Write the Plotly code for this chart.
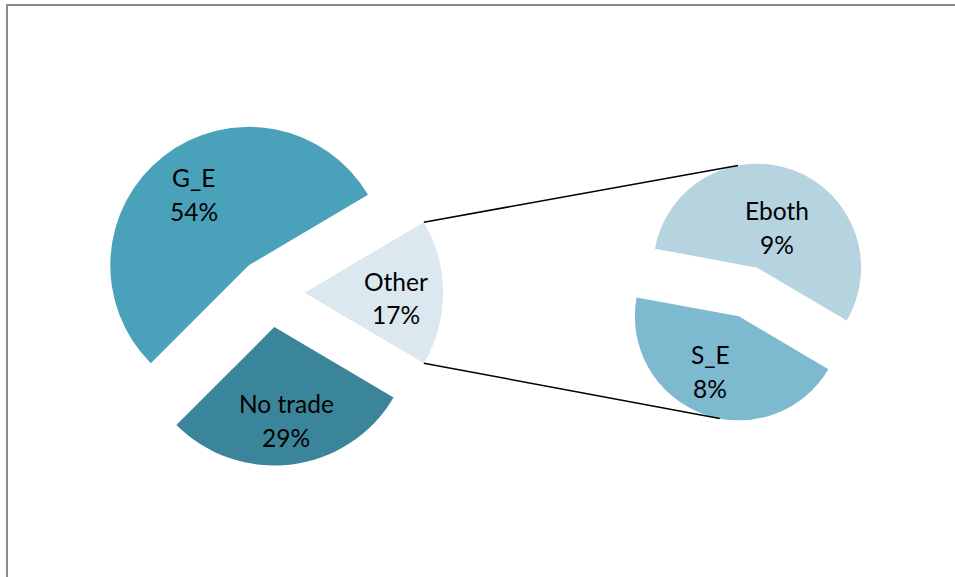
import math
import plotly.graph_objects as go

# ---------------- data ----------------
main_labels = ["G_E", "No trade", "Other"]
main_values = [54, 29, 17]
sub_labels = ["Eboth", "S_E"]
sub_values = [9.45, 7.55]          # split of "Other"

main_colors = ["#49a2b9", "#3a8599", "#dce8ef"]
sub_colors = ["#b5d4e0", "#7dbad0"]

# ---------------- layout constants (pixels) ----------------
W, H = 955, 577
MAIN_C = (270.0, 292.7)
MAIN_R = 138.5
SUB_C = (748.0, 292.0)
SUB_R = 104.0
PULL = 0.25
SUB_ROTATION = -79.5        # plotly rotation for the secondary pie
CONNECT_TILT = 10.6         # degrees
FONT = "Lato"
FSIZE = 24.5
LINE_GAP = 34.0

# label anchor positions (pixel centre of the two-line label)
label_pos = {
    "G_E": (193.5, 194.0),
    "No trade": (286.3, 420.5),
    "Other": (396.0, 298.0),
    "Eboth": (777.0, 227.0),
    "S_E": (710.0, 371.0),
}

total = sum(main_values)
main_pct = [f"{round(v / total * 100)}%" for v in main_values]
sub_pct = [f"{round(v / total * 100)}%" for v in sub_values]


def px_to_paper(x, y):
    return x / W, 1 - y / H


def domain_for(c, r, pull):
    half = r * (1 + pull)
    return dict(x=[(c[0] - half) / W, (c[0] + half) / W],
                y=[1 - (c[1] + half) / H, 1 - (c[1] - half) / H])


# main pie: G_E, No trade, Other counterclockwise, Other centred at 3 o'clock
deg = [360.0 * v / total for v in main_values]
start_math = deg[2] / 2.0                      # G_E starts just above Other
main_rotation = 90 - start_math - deg[0]
if main_rotation < -360:
    main_rotation += 360

sub_total = sum(sub_values)
sdeg = [360.0 * v / sub_total for v in sub_values]

fig = go.Figure()
fig.add_trace(go.Pie(
    labels=main_labels, values=main_values, sort=False,
    direction="counterclockwise", rotation=main_rotation,
    pull=[PULL] * 3, marker=dict(colors=main_colors, line=dict(width=0)),
    textinfo="none", hoverinfo="label+percent",
    domain=domain_for(MAIN_C, MAIN_R, PULL), showlegend=False,
))
fig.add_trace(go.Pie(
    labels=sub_labels, values=sub_values, sort=False,
    direction="clockwise", rotation=SUB_ROTATION,
    pull=[PULL] * 2, marker=dict(colors=sub_colors, line=dict(width=0)),
    textinfo="none", hoverinfo="label",
    domain=domain_for(SUB_C, SUB_R, PULL), showlegend=False,
))


def pt(c, r, ang):
    a = math.radians(ang)
    return (c[0] + r * math.cos(a), c[1] - r * math.sin(a))


# apex of "Other" slice
other_mid = start_math + deg[0] + deg[1] + deg[2] / 2.0
other_apex = pt(MAIN_C, PULL * MAIN_R, other_mid)
o_top = pt(other_apex, MAIN_R, other_mid + deg[2] / 2.0)
o_bot = pt(other_apex, MAIN_R, other_mid - deg[2] / 2.0)

# secondary slices
s0_start_math = 90 - SUB_ROTATION          # counterclockwise edge of Eboth
eboth_mid = s0_start_math - sdeg[0] / 2.0
se_mid = s0_start_math - sdeg[0] - sdeg[1] / 2.0
eboth_apex = pt(SUB_C, PULL * SUB_R, eboth_mid)
se_apex = pt(SUB_C, PULL * SUB_R, se_mid)
s_top = pt(eboth_apex, SUB_R, 90 + CONNECT_TILT)
s_bot = pt(se_apex, SUB_R, 270 - CONNECT_TILT)

shapes = []
for a, b in [(o_top, s_top), (o_bot, s_bot)]:
    x0, y0 = px_to_paper(*a)
    x1, y1 = px_to_paper(*b)
    shapes.append(dict(type="line", xref="paper", yref="paper",
                       x0=x0, y0=y0, x1=x1, y1=y1,
                       line=dict(color="black", width=1.5)))

# chart border (extends past the window on right/bottom)
bx0, by0 = px_to_paper(7, 5)
bx1, by1 = px_to_paper(980, 600)
shapes.append(dict(type="rect", xref="paper", yref="paper",
                   x0=bx0, y0=by1, x1=bx1, y1=by0,
                   line=dict(color="#8c8c8c", width=2), fillcolor="rgba(0,0,0,0)"))

annotations = []
for name, pct in list(zip(main_labels, main_pct)) + list(zip(sub_labels, sub_pct)):
    cx, cy = label_pos[name]
    for txt, yy in [(name, cy - LINE_GAP / 2), (pct, cy + LINE_GAP / 2)]:
        ax, ay = px_to_paper(cx, yy)
        annotations.append(dict(text=txt, x=ax, y=ay, xref="paper", yref="paper",
                                showarrow=False, xanchor="center", yanchor="middle",
                                font=dict(family=FONT, size=FSIZE, color="black")))

fig.update_layout(
    width=W, height=H, margin=dict(l=0, r=0, t=0, b=0),
    paper_bgcolor="white", plot_bgcolor="white",
    shapes=shapes, annotations=annotations, showlegend=False,
)

fig.write_html("out.html")
